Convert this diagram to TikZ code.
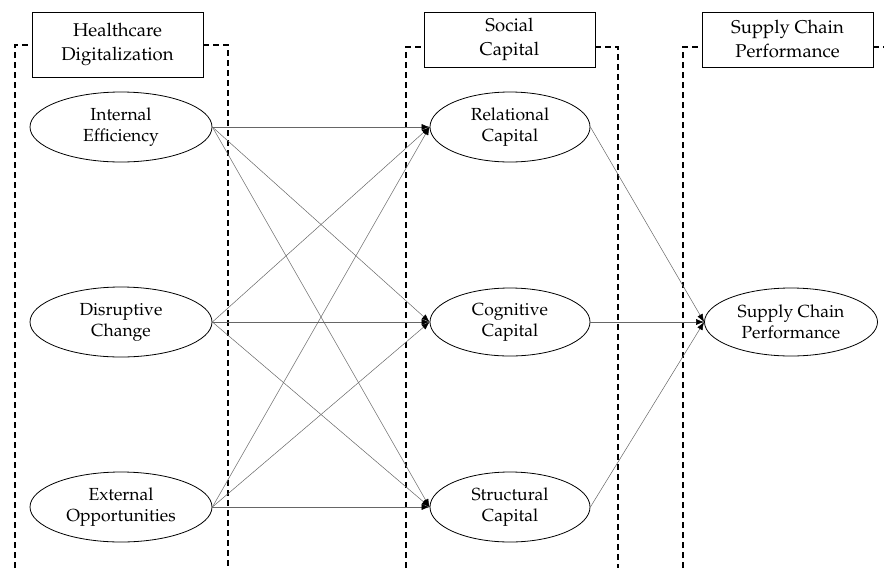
\documentclass[tikz,border=0pt]{standalone}
\usepackage[T1]{fontenc}
\usepackage{mathpazo}
\usetikzlibrary{arrows.meta,shapes.geometric}
\begin{document}
\begin{tikzpicture}[x=1pt,y=-1pt,
  ell/.style={draw,ellipse,line width=0.8pt,align=center,font=\fontsize{17.5}{21}\selectfont,inner sep=0pt},
  hdr/.style={draw,rectangle,line width=0.8pt,align=center,font=\fontsize{18.5}{24}\selectfont,inner sep=0pt,minimum width=171pt},
  grp/.style={line width=1.3pt,dash pattern=on 6pt off 4pt},
  lnk/.style={draw=black!60,line width=0.5pt,-{Latex[length=8pt,width=6pt,black]}}]
\useasboundingbox (0,0) rectangle (884,571);
% group frames
\node[hdr,minimum height=65pt] (h1) at (117.5,44.5) {Healthcare\\Digitalization};
\node[hdr,minimum height=55pt] (h2) at (509.5,39.5) {Social\\Capital};
\node[hdr,minimum height=55pt] (h3) at (787.5,39.5) {Supply Chain\\Performance};
\draw[grp] (15,568) -- (15,45) -- (h1.west |- 0,45);
\draw[grp] (h1.east |- 0,45) -- (228,45) -- (228,568);
\draw[grp] (406,568) -- (406,47) -- (h2.west |- 0,47);
\draw[grp] (h2.east |- 0,47) -- (618,47) -- (618,568);
\draw[grp] (683,568) -- (683,47) -- (h3.west |- 0,47);
\draw[grp] (h3.east |- 0,47) -- (884,47);
% constructs
\node[ell,minimum width=182pt,minimum height=70pt] (ie) at (121,127) {Internal\\Efficiency};
\node[ell,minimum width=182pt,minimum height=70pt] (dc) at (121,322) {Disruptive\\Change};
\node[ell,minimum width=182pt,minimum height=70pt] (eo) at (121,507) {External\\Opportunities};
\node[ell,minimum width=160pt,minimum height=70pt] (rc) at (510,127) {Relational\\Capital};
\node[ell,minimum width=160pt,minimum height=68pt] (cc) at (510,322) {Cognitive\\Capital};
\node[ell,minimum width=160pt,minimum height=70pt] (sc) at (510,507) {Structural\\Capital};
\node[ell,minimum width=173pt,minimum height=68pt] (scp) at (791,322) {Supply Chain\\Performance};
% paths
\foreach \s in {ie,dc,eo}{
  \foreach \t in {rc,cc,sc}{
    \draw[lnk] (\s.east) -- (\t.west);
  }
}
\foreach \s in {rc,cc,sc}{
  \draw[lnk] (\s.east) -- (scp.west);
}
\end{tikzpicture}
\end{document}
